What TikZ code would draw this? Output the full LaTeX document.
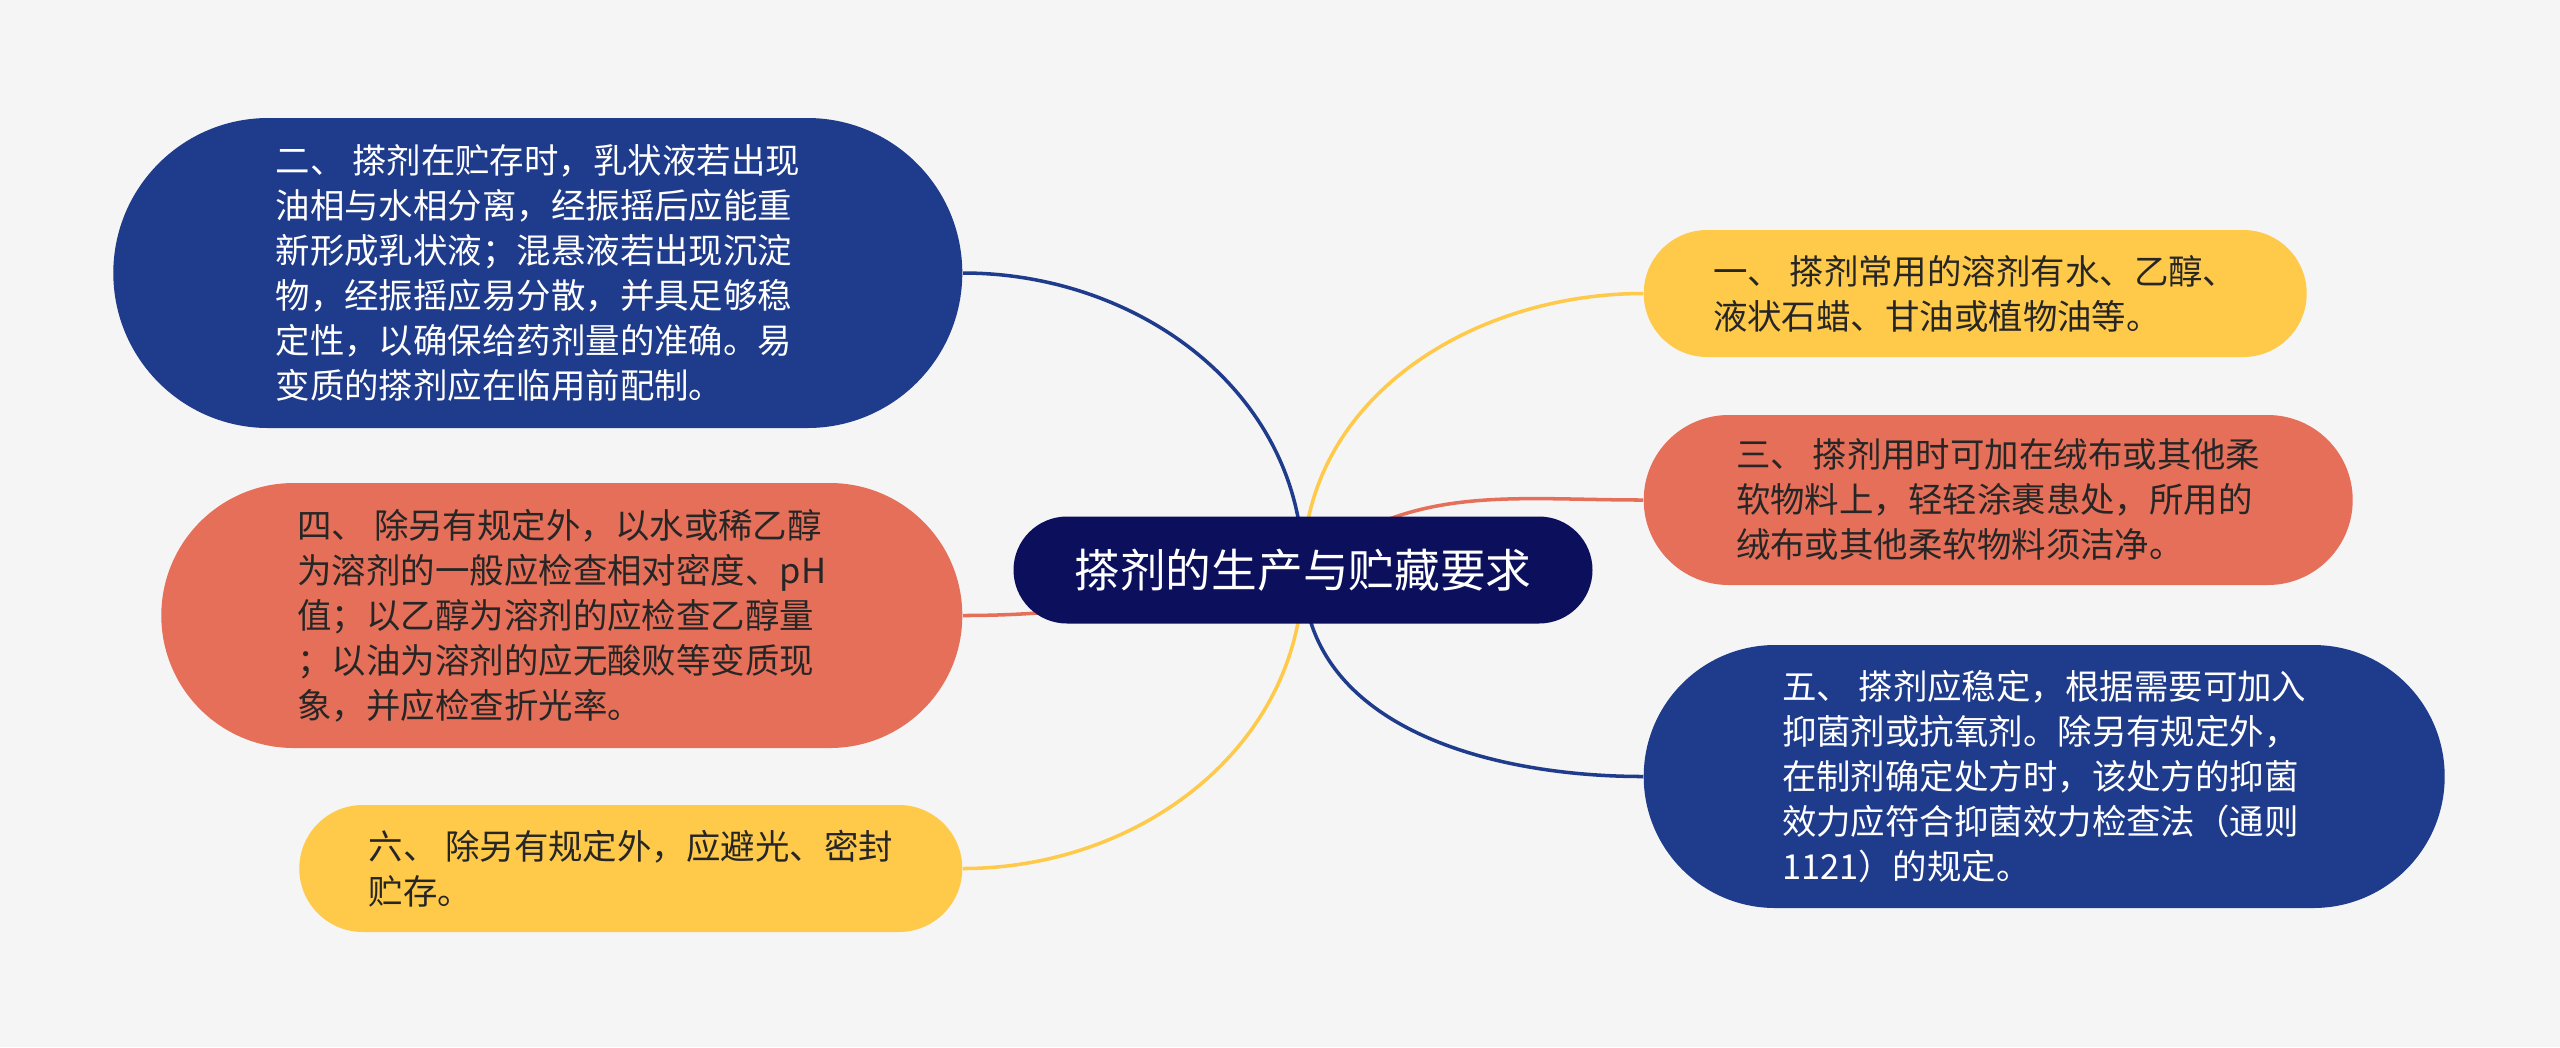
\documentclass[tikz,border=0pt]{standalone}
\usepackage{fontspec}
\newfontfamily\cjk{Noto Sans CJK SC}
\usetikzlibrary{shapes.misc}

\definecolor{rootblue}{HTML}{0B0F5C}
\definecolor{deepblue}{HTML}{1F3B8B}
\definecolor{coral}{HTML}{E56F58}
\definecolor{sun}{HTML}{FFC94A}
\definecolor{paper}{HTML}{F5F5F5}

\pgfdeclarelayer{sheet}
\pgfdeclarelayer{links}
\pgfsetlayers{sheet,links,main}

\begin{document}
\begin{tikzpicture}[
        topic/.style={
            rounded rectangle,
            fill=rootblue,
            text=white,
            font=\cjk\fontsize{13pt}{15pt}\selectfont,
            minimum width=5.79cm,
            minimum height=1.07cm,
            inner sep=0pt
        },
        leaf/.style={
            rounded rectangle,
            align=left,
            inner sep=0pt,
            font=\cjk\fontsize{9.8pt}{12.8pt}\selectfont
        },
        bluebox/.style={leaf, fill=deepblue, text=white},
        redbox/.style={leaf, fill=coral, text=black!85},
        sunbox/.style={leaf, fill=sun, text=black!85},
        link/.style={line width=1pt}
    ]
        \useasboundingbox (0,0) rectangle (25.6,-10.47);
        \begin{pgfonlayer}{sheet}
            \fill[paper] (0,0) rectangle (25.6,-10.47);
        \end{pgfonlayer}

        \node[topic] (root) at (13.03,-5.70) {搽剂的生产与贮藏要求};

        % left side
        \node[bluebox, anchor=east, minimum width=8.49cm, minimum height=3.10cm] (two) at (9.63,-2.73) {二、 搽剂在贮存时，乳状液若出现\\油相与水相分离，经振摇后应能重\\新形成乳状液；混悬液若出现沉淀\\物，经振摇应易分散，并具足够稳\\定性，以确保给药剂量的准确。易\\变质的搽剂应在临用前配制。};
        \node[redbox, anchor=east, minimum width=8.01cm, minimum height=2.65cm] (four) at (9.63,-6.155) {四、 除另有规定外，以水或稀乙醇\\为溶剂的一般应检查相对密度、pH\\值；以乙醇为溶剂的应检查乙醇量\\；以油为溶剂的应无酸败等变质现\\象，并应检查折光率。};
        \node[sunbox, anchor=east, minimum width=6.63cm, minimum height=1.27cm] (six) at (9.63,-8.685) {六、 除另有规定外，应避光、密封\\贮存。};

        % right side
        \node[sunbox, anchor=west, minimum width=6.63cm, minimum height=1.27cm] (one) at (16.43,-2.935) {一、 搽剂常用的溶剂有水、乙醇、\\液状石蜡、甘油或植物油等。};
        \node[redbox, anchor=west, minimum width=7.09cm, minimum height=1.70cm] (three) at (16.43,-5.00) {三、 搽剂用时可加在绒布或其他柔\\软物料上，轻轻涂裹患处，所用的\\绒布或其他柔软物料须洁净。};
        \node[bluebox, anchor=west, minimum width=8.01cm, minimum height=2.63cm] (five) at (16.43,-7.765) {五、 搽剂应稳定，根据需要可加入\\抑菌剂或抗氧剂。除另有规定外，\\在制剂确定处方时，该处方的抑菌\\效力应符合抑菌效力检查法（通则\\1121）的规定。};

        \begin{pgfonlayer}{links}
            \draw[link, deepblue] (root.center) to[out=90, in=0] (two.east);
            \draw[link, coral] (root.center) to[out=190, in=0] (four.east);
            \draw[link, sun] (root.center) to[out=-90, in=0] (six.east);
            \draw[link, sun] (root.center) to[out=90, in=180] (one.west);
            \draw[link, coral] (root.center) to[out=40, in=180] (three.west);
            \draw[link, deepblue] (root.center) to[out=-90, in=180] (five.west);
        \end{pgfonlayer}
    \end{tikzpicture}
\end{document}
